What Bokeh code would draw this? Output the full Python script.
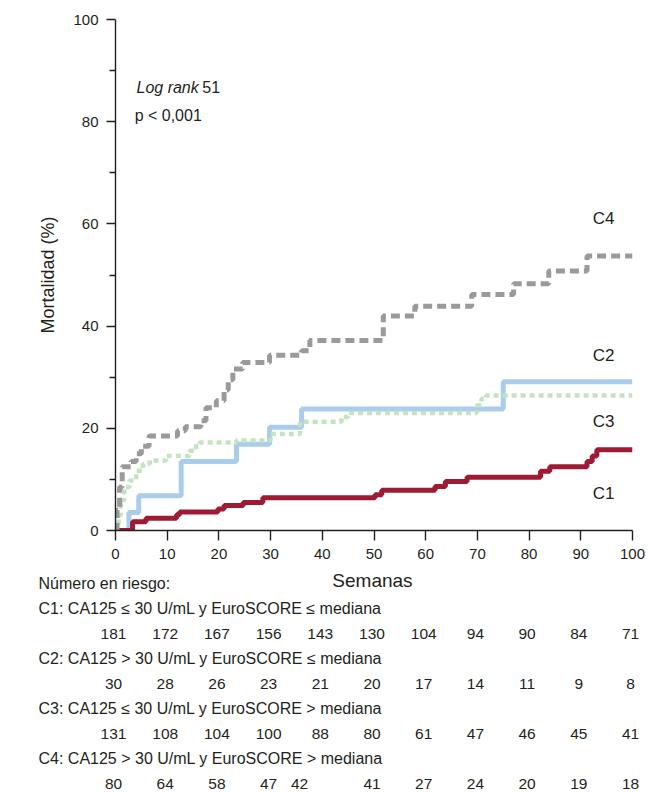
from bokeh.plotting import figure
from bokeh.models import Range1d, FixedTicker, ColumnDataSource
from bokeh.layouts import column
from bokeh.embed import file_html
from bokeh.resources import INLINE
from bokeh.core.properties import value

# ---------------- data ----------------
week_ticks = [0, 10, 20, 30, 40, 50, 60, 70, 80, 90, 100]
y_ticks = [0, 20, 40, 60, 80, 100]
y_minor_ticks = [10, 30, 50, 70, 90]

c1_weeks = [0, 3.3, 5.9, 11.8, 12.4, 19.8, 21.0, 24.7, 28.5, 50.2, 51.5, 61.8, 63.8, 68.0, 82.2, 84.0, 91.2, 92.2, 93.1, 100]
c1_mort = [0, 1.7, 2.4, 3.1, 3.6, 4.2, 4.9, 5.5, 6.4, 7.0, 7.9, 8.6, 9.6, 10.4, 11.6, 12.5, 13.5, 14.6, 15.8, 15.8]

c2_weeks = [0, 2.6, 4.5, 12.7, 23.4, 29.8, 36.0, 75.0, 100]
c2_mort = [0, 3.5, 6.8, 13.5, 16.9, 20.2, 23.8, 29.1, 29.1]

c3_weeks = [0, 0.6, 1.0, 1.7, 2.7, 4.0, 5.3, 6.6, 9.8, 14.3, 15.6, 16.3, 23.4, 30.0, 35.7, 43.7, 45.0, 69.9, 70.8, 71.7, 100]
c3_mort = [0, 3.0, 5.9, 8.5, 9.8, 11.7, 13.0, 13.7, 14.6, 15.6, 16.9, 17.2, 17.6, 18.9, 21.3, 22.2, 23.0, 24.5, 25.8, 26.4, 26.4]

c4_weeks = [0, 0.3, 0.8, 1.3, 3.0, 4.0, 5.0, 6.5, 12.0, 13.5, 16.5, 17.5, 19.5, 21.0, 21.8, 22.7, 24.6, 29.8, 36.0, 37.6, 51.8, 57.9, 68.9, 77.0, 83.8, 91.2, 100]
c4_mort = [0, 4.0, 8.5, 12.5, 13.5, 15.0, 16.5, 18.5, 19.5, 20.3, 21.5, 24.0, 25.4, 27.5, 29.5, 31.6, 32.9, 34.3, 35.2, 37.2, 42.0, 43.9, 46.2, 48.3, 50.8, 53.7, 53.7]

curve_names = ["C1", "C2", "C3", "C4"]

risk_weeks = [0, 10, 20, 30, 40, 50, 60, 70, 80, 90, 100]
risk_weeks_c4 = [0, 10, 20, 30, 36, 50, 60, 70, 80, 90, 100]
risk_c1 = [181, 172, 167, 156, 143, 130, 104, 94, 90, 84, 71]
risk_c2 = [30, 28, 26, 23, 21, 20, 17, 14, 11, 9, 8]
risk_c3 = [131, 108, 104, 100, 88, 80, 61, 47, 46, 45, 41]
risk_c4 = [80, 64, 58, 47, 42, 41, 27, 24, 20, 19, 18]

group_labels = [
    "C1: CA125 \u2264 30 U/mL y EuroSCORE \u2264 mediana",
    "C2: CA125 > 30 U/mL y EuroSCORE \u2264 mediana",
    "C3: CA125 \u2264 30 U/mL y EuroSCORE > mediana",
    "C4: CA125 > 30 U/mL y EuroSCORE > mediana",
]

# ---------------- style / layout ----------------
FONT = "Liberation Sans"
TXT = "#231F20"
W = 648
H1 = 566
H2 = 227
LEFT = 115
RIGHT = 16
PX_PER_WEEK = (W - LEFT - RIGHT) / 100.0

p = figure(width=W, height=H1, x_range=Range1d(0, 100), y_range=Range1d(0, 100),
           output_backend="svg", toolbar_location=None,
           min_border_left=LEFT, min_border_right=RIGHT, min_border_top=19, min_border_bottom=36)
p.outline_line_color = None
p.grid.visible = False
p.background_fill_color = "white"
p.border_fill_color = "white"

for ax in (p.xaxis[0], p.yaxis[0]):
    ax.axis_line_color = TXT
    ax.axis_line_width = 1.4
    ax.major_tick_line_color = TXT
    ax.major_tick_line_width = 1.4
    ax.minor_tick_line_color = TXT
    ax.minor_tick_line_width = 1.4
    ax.major_tick_in = 0
    ax.minor_tick_in = 0
    ax.minor_tick_out = 6
    ax.major_label_text_font = FONT
    ax.major_label_text_font_size = "15px"
    ax.major_label_text_color = TXT

p.xaxis.ticker = FixedTicker(ticks=week_ticks, minor_ticks=[])
p.xaxis.major_tick_out = 10
p.xaxis.major_label_standoff = 8
p.yaxis.ticker = FixedTicker(ticks=y_ticks, minor_ticks=y_minor_ticks)
p.yaxis.major_tick_out = 9
p.yaxis.major_label_standoff = 8
p.yaxis.axis_label = "Mortalidad (%)"
p.yaxis.axis_label_text_font = FONT
p.yaxis.axis_label_text_font_size = "18px"
p.yaxis.axis_label_text_font_style = "normal"
p.yaxis.axis_label_text_color = TXT
p.yaxis.axis_label_standoff = 12

# curves
p.step(c2_weeks, c2_mort, mode="after", line_color="#A9CDEB", line_width=5)
p.step(c3_weeks, c3_mort, mode="after", line_color="#C4E3C2", line_width=4.5, line_dash="5 4")
p.step(c1_weeks, c1_mort, mode="after", line_color="#9E1B34", line_width=5)
p.step(c4_weeks, c4_mort, mode="after", line_color="#9A9A9A", line_width=5, line_dash="9 5")

# curve labels
lab_src = ColumnDataSource(dict(x=[94.4, 94.4, 94.4, 94.4], y=[7.2, 34.2, 21.3, 61.0], t=curve_names))
p.text(x="x", y="y", text="t", source=lab_src, text_align="center", text_baseline="middle",
       text_font=value(FONT), text_font_size=value("17px"), text_color=TXT)

# log rank annotation
p.text(x=[4.06], y=[86.7], text=["Log rank"], text_align="left", text_baseline="middle",
       text_font=value(FONT), text_font_size=value("16px"), text_font_style="italic", text_color=TXT)
p.text(x=[16.8], y=[86.7], text=["51"], text_align="left", text_baseline="middle",
       text_font=value(FONT), text_font_size=value("16px"), text_color=TXT)
p.text(x=[3.7], y=[81.2], text=["p < 0,001"], text_align="left", text_baseline="middle",
       text_font=value(FONT), text_font_size=value("16px"), text_color=TXT)

# ---------------- risk table: frame spans the full width ----------------
t = figure(width=W, height=H2,
           x_range=Range1d(-LEFT / PX_PER_WEEK, (W - LEFT) / PX_PER_WEEK),
           y_range=Range1d(H2, 0),
           output_backend="svg", toolbar_location=None, min_border=0,
           x_axis_location=None, y_axis_location=None)
t.outline_line_color = None
t.grid.visible = False
t.background_fill_color = "white"
t.border_fill_color = "white"
p.frame_align = False
t.frame_align = False

label_x = (38 - LEFT) / PX_PER_WEEK
row_y_label = [42, 92, 142, 192]
row_y_nums = [67, 117, 167, 217]

t.text(x=[49.7], y=[14], text=["Semanas"], text_align="center", text_baseline="middle",
       text_font=value(FONT), text_font_size=value("19px"), text_color=TXT)
t.text(x=[label_x], y=[17], text=["N\u00famero en riesgo:"], text_align="left", text_baseline="middle",
       text_font=value(FONT), text_font_size=value("16px"), text_color=TXT)
t.text(x=[label_x] * 4, y=row_y_label, text=group_labels, text_align="left", text_baseline="middle",
       text_font=value(FONT), text_font_size=value("16px"), text_color=TXT)

for wks, vals, yy in zip([risk_weeks, risk_weeks, risk_weeks, risk_weeks_c4],
                         [risk_c1, risk_c2, risk_c3, risk_c4], row_y_nums):
    t.text(x=wks, y=[yy] * len(vals), text=[str(v) for v in vals], x_offset=-2,
           text_align="center", text_baseline="middle",
           text_font=value(FONT), text_font_size=value("15.5px"), text_color=TXT)

layout = column(p, t, spacing=0)
open("out.html", "w").write(file_html(layout, INLINE))
